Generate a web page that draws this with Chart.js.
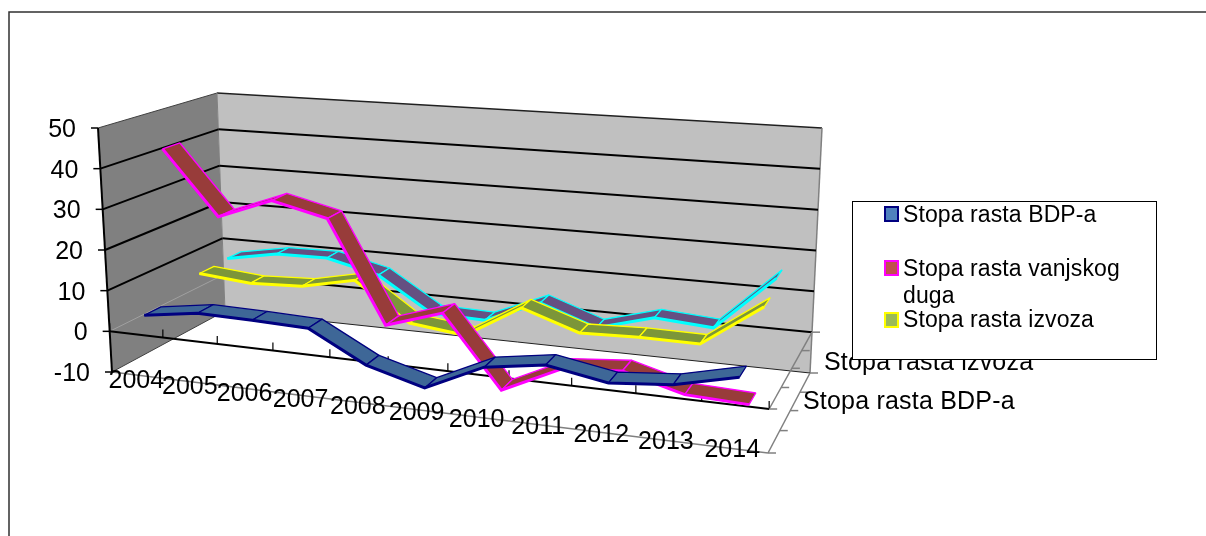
<!DOCTYPE html>
<html>
<head>
<meta charset="utf-8">
<style>
    html, body { margin: 0; padding: 0; background: #ffffff; }
    canvas { display: block; }
</style>
<script src="https://cdn.jsdelivr.net/npm/chart.js@4"></script>
</head>
<body>
<canvas id="growthChart" width="1206" height="536"></canvas>
<script>
const years = ['2004', '2005', '2006', '2007', '2008', '2009', '2010', '2011', '2012', '2013', '2014'];
const yTicks = [-10, 0, 10, 20, 30, 40, 50];
const depthLabels = ['Stopa rasta BDP-a', 'Stopa rasta izvoza'];

const bdpGrowth = [3.6, 5.6, 5.4, 5, -2.3, -6.1, 0.5, 2.7, 0.2, 1.5, 5];
const debtGrowth = [42.5, 26.6, 31.9, 28.7, 3.8, 8.3, -8.8, -2.1, -0.9, -4.8, -5.4];
const exportGrowth = [7.2, 6, 6.6, 9.5, 0.1, -1.5, 6.8, 2.1, 2.6, 2.5, 12.9];
const unnamedGrowth = [7.6, 10, 10.2, 7, -1.5, -1.9, 3.9, -0.9, 3, 2, 15.5];

const legendEntries = [
    { lines: ['Stopa rasta BDP-a'], border: '#000080', fill: '#4f81bd', swatchY: 207, textY: [222] },
    { lines: ['Stopa rasta vanjskog', 'duga'], border: '#ff00ff', fill: '#c0504d', swatchY: 261, textY: [276, 303] },
    { lines: ['Stopa rasta izvoza'], border: '#ffff00', fill: '#9bbb59', swatchY: 313, textY: [327] }
];

// corners of the 3d box on the page: front/back, left/right, bottom (-10) / top (50)
const box = {
    frontLeft: { bottom: [112, 372], top: [98, 128] },
    frontRight: { bottom: [768, 453], top: [775, 189] },
    backLeft: { bottom: [225, 311], top: [217, 93] },
    backRight: { bottom: [810, 373], top: [822, 128] }
};
const perspective = 1.14;
const axisFont = '25px "Liberation Sans", Arial, sans-serif';
const legendFont = '23px "Liberation Sans", Arial, sans-serif';

function lerp(a, b, t) {
    return [a[0] + (b[0] - a[0]) * t, a[1] + (b[1] - a[1]) * t];
}

// chart pixel + depth (0 front, 1 back) -> page position in the box
function project(chart, px, py, depth) {
    const area = chart.chartArea;
    const u = (px - area.left) / (area.right - area.left);
    const v = (area.bottom - py) / (area.bottom - area.top);
    const f = u / (u + perspective * (1 - u));
    const corner = (c) => lerp(c.bottom, c.top, v);
    const front = lerp(corner(box.frontLeft), corner(box.frontRight), f);
    const back = lerp(corner(box.backLeft), corner(box.backRight), f);
    return lerp(front, back, depth);
}

function line(ctx, a, b, color, width) {
    ctx.beginPath();
    ctx.moveTo(a[0], a[1]);
    ctx.lineTo(b[0], b[1]);
    ctx.strokeStyle = color;
    ctx.lineWidth = width;
    ctx.stroke();
}

function polygon(ctx, points, color) {
    ctx.beginPath();
    points.forEach((p, i) => (i ? ctx.lineTo(p[0], p[1]) : ctx.moveTo(p[0], p[1])));
    ctx.closePath();
    ctx.fillStyle = color;
    ctx.fill();
}

function drawText(ctx, text, x, y, align, font, spacing) {
    ctx.font = font;
    ctx.fillStyle = '#000000';
    ctx.textAlign = align;
    ctx.textBaseline = 'alphabetic';
    ctx.letterSpacing = spacing;
    ctx.fillText(text, x, y);
    ctx.letterSpacing = '0px';
}

const box3d = {
    id: 'box3d',
    // moves the points the scales placed onto the front edge of each ribbon
    afterDatasetsUpdate(chart) {
        chart.data.datasets.forEach((dataset, index) => {
            chart.getDatasetMeta(index).data.forEach((point) => {
                point.flatX = point.x;
                point.flatY = point.y;
                const p = project(chart, point.x, point.y, dataset.depthFront);
                point.x = p[0];
                point.y = p[1];
            });
        });
    },
    beforeDatasetsDraw(chart) {
        const ctx = chart.ctx;
        const xs = chart.scales.x;
        const ys = chart.scales.y;
        const at = (cat, val, depth) => project(chart, xs.getPixelForValue(cat), ys.getPixelForValue(val), depth);
        const first = -0.5;
        const last = years.length - 0.5;

        // page frame
        ctx.strokeStyle = '#303030';
        ctx.lineWidth = 1.5;
        ctx.beginPath();
        ctx.moveTo(9, 536);
        ctx.lineTo(9, 12);
        ctx.lineTo(1206, 12);
        ctx.stroke();

        // walls
        polygon(ctx, [at(first, 50, 0), at(first, 50, 1), at(first, -10, 1), at(first, -10, 0)], '#808080');
        polygon(ctx, [at(first, 50, 1), at(last, 50, 1), at(last, -10, 1), at(first, -10, 1)], '#c0c0c0');
        line(ctx, at(first, 50, 0), at(first, 50, 1), '#404040', 1);
        line(ctx, at(first, 50, 1), at(last, 50, 1), '#202020', 1.5);
        line(ctx, at(last, 50, 1), at(last, -10, 1), '#808080', 1.5);
        line(ctx, at(first, 50, 1), at(first, -10, 1), '#808080', 1);
        line(ctx, at(first, -10, 0), at(first, -10, 1), '#404040', 1);
        line(ctx, at(first, -10, 1), at(last, -10, 1), '#202020', 1);

        // grid lines along left and back wall
        yTicks.forEach((tick) => {
            if (tick === -10 || tick === 50) {
                return;
            }
            const wallColor = tick === 0 ? '#a0a0a0' : '#000000';
            line(ctx, at(first, tick, 0), at(first, tick, 1), wallColor, tick === 0 ? 1 : 2);
            line(ctx, at(first, tick, 1), at(last, tick, 1), '#000000', 2);
        });

        // value axis and its labels
        line(ctx, at(first, 50, 0), at(first, -10, 0), '#000000', 2);
        yTicks.forEach((tick) => {
            const p = at(first, tick, 0);
            line(ctx, p, [p[0] - 7, p[1]], '#000000', 1.5);
            drawText(ctx, String(tick), p[0] - 22, p[1] + 9, 'right', axisFont, '0px');
        });

        // category axis crossing at zero, floor edges
        line(ctx, at(first, 0, 0), at(last, 0, 0), '#000000', 2);
        line(ctx, at(first, -10, 0), at(last, -10, 0), '#808080', 1.5);
        line(ctx, at(last, -10, 0), at(last, -10, 1), '#808080', 1.5);
        line(ctx, at(last, 0, 0), at(last, 0, 1), '#808080', 1.5);
        for (let k = 0; k <= years.length; k++) {
            const p = at(k - 0.5, 0, 0);
            line(ctx, p, [p[0], p[1] - 8], '#000000', 1.2);
        }
        years.forEach((year, i) => {
            const p = at(i, -10, 0);
            drawText(ctx, year, p[0] - 2, p[1] + 13 - i * 0.5, 'center', axisFont, '0px');
        });

        // depth axis ticks and labels
        [0, 0.28, 0.53, 0.76, 1].forEach((depth) => {
            const low = at(last, -10, depth);
            const zero = at(last, 0, depth);
            line(ctx, low, [low[0] + 8, low[1]], '#808080', 1.5);
            line(ctx, zero, [zero[0] + 8, zero[1]], '#808080', 1.5);
        });
        drawText(ctx, depthLabels[0], 803, 409, 'left', axisFont, '0.2px');
        drawText(ctx, depthLabels[1], 824, 370, 'left', axisFont, '0.2px');
    },
    // ribbon body between front edge and back edge, the library then strokes the front edge
    beforeDatasetDraw(chart, args) {
        const ctx = chart.ctx;
        const dataset = chart.data.datasets[args.index];
        const points = args.meta.data;
        const backEdge = (p) => project(chart, p.flatX, p.flatY, dataset.depthBack);
        ctx.save();
        ctx.lineJoin = 'bevel';
        for (let i = 0; i < points.length - 1; i++) {
            const a = points[i];
            const b = points[i + 1];
            const quad = [[a.x, a.y], [b.x, b.y], backEdge(b), backEdge(a)];
            polygon(ctx, quad, dataset.backgroundColor);
            ctx.strokeStyle = dataset.borderColor;
            ctx.lineWidth = 1.3;
            ctx.stroke();
        }
        ctx.restore();
    },
    afterDraw(chart) {
        const ctx = chart.ctx;
        ctx.fillStyle = '#ffffff';
        ctx.fillRect(852, 201, 304, 158);
        ctx.strokeStyle = '#000000';
        ctx.lineWidth = 1;
        ctx.strokeRect(852.5, 201.5, 304, 158);
        legendEntries.forEach((entry) => {
            ctx.fillStyle = entry.fill;
            ctx.fillRect(885, entry.swatchY, 13, 14);
            ctx.strokeStyle = entry.border;
            ctx.lineWidth = 2;
            ctx.strokeRect(885, entry.swatchY, 13, 14);
            entry.lines.forEach((text, i) => {
                drawText(ctx, text, 903, entry.textY[i], 'left', legendFont, '0.1px');
            });
        });
    }
};

new Chart(document.getElementById('growthChart'), {
    type: 'line',
    data: {
        labels: years,
        datasets: [
            { label: depthLabels[0], data: bdpGrowth, borderColor: '#000080', backgroundColor: '#3e6797', depthFront: 0.08, depthBack: 0.23 },
            { label: 'Stopa rasta vanjskog duga', data: debtGrowth, borderColor: '#ff00ff', backgroundColor: '#983c3a', depthFront: 0.31, depthBack: 0.46 },
            { label: depthLabels[1], data: exportGrowth, borderColor: '#ffff00', backgroundColor: '#7c9639', depthFront: 0.58, depthBack: 0.71 },
            { label: '', data: unnamedGrowth, borderColor: '#00ffff', backgroundColor: '#655082', depthFront: 0.83, depthBack: 0.95 }
        ]
    },
    options: {
        responsive: false,
        animation: false,
        layout: { padding: 0 },
        elements: {
            point: { radius: 0 },
            line: { borderWidth: 3, tension: 0, fill: false, borderJoinStyle: 'miter', borderCapStyle: 'butt' }
        },
        plugins: {
            legend: { display: false },
            tooltip: { enabled: false }
        },
        scales: {
            x: { type: 'category', offset: true, display: false },
            y: { min: -10, max: 50, display: false, ticks: { stepSize: 10 } }
        }
    },
    plugins: [box3d]
});
</script>
</body>
</html>
